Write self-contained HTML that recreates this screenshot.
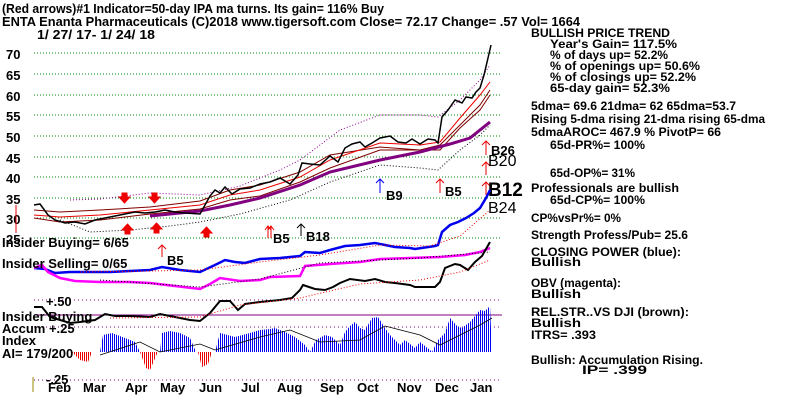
<!DOCTYPE html>
<html><head><meta charset="utf-8"><style>
html,body{margin:0;padding:0;background:#fff;}
svg{display:block;}
text{font-family:"Liberation Sans",sans-serif;font-weight:bold;fill:#000;}
</style></head><body>
<svg width="800" height="401" viewBox="0 0 800 401" xmlns="http://www.w3.org/2000/svg">
<defs>
<pattern id="bl" width="2" height="4" patternUnits="userSpaceOnUse"><rect x="0" y="0" width="1" height="4" fill="#0000ee"/></pattern>
<pattern id="rd" width="2" height="4" patternUnits="userSpaceOnUse"><rect x="0" y="0" width="1" height="4" fill="#ee0000"/></pattern>
</defs>
<rect width="800" height="401" fill="#fff"/>
<!-- header -->
<text x="2" y="13" font-size="13" textLength="382" lengthAdjust="spacingAndGlyphs">(Red arrows)#1 Indicator=50-day IPA ma turns. Its gain= 116% Buy</text>
<text x="2" y="26" font-size="13" textLength="578" lengthAdjust="spacingAndGlyphs">ENTA   Enanta Pharmaceuticals   (C)2018 www.tigersoft.com     Close=  72.17   Change= .57 Vol= 1664</text>
<text x="37" y="39" font-size="13" textLength="118" lengthAdjust="spacingAndGlyphs">1/ 27/ 17- 1/ 24/ 18</text>
<!-- grid -->
<g stroke="#008800" stroke-dasharray="1,2" stroke-width="1">
<line x1="34" y1="53" x2="500" y2="53"/><line x1="34" y1="74" x2="500" y2="74"/>
<line x1="34" y1="95" x2="500" y2="95"/><line x1="34" y1="115" x2="500" y2="115"/>
<line x1="34" y1="136" x2="500" y2="136"/><line x1="34" y1="157" x2="500" y2="157"/>
<line x1="34" y1="177" x2="500" y2="177"/><line x1="34" y1="198" x2="500" y2="198"/>
<line x1="34" y1="218" x2="500" y2="218"/><line x1="34" y1="238" x2="500" y2="238"/>
</g>
<g font-size="13">
<text x="6" y="59">70</text><text x="6" y="80">65</text><text x="6" y="101">60</text>
<text x="6" y="121">55</text><text x="6" y="142">50</text><text x="6" y="163">45</text>
<text x="6" y="183">40</text><text x="6" y="204">35</text><text x="6" y="224">30</text>
<text x="6" y="244">25</text>
</g>
<!-- accum dotted lines -->
<g stroke="#800080" stroke-dasharray="1,3">
<line x1="34" y1="300" x2="500" y2="300"/><line x1="34" y1="327" x2="500" y2="327"/>
<line x1="34" y1="380" x2="500" y2="380"/>
</g>
<line x1="34" y1="315" x2="502" y2="315" stroke="#800080" stroke-width="1"/>
<!-- bands -->
<polyline fill="none" stroke="#900090" stroke-dasharray="1,2" points="70,200 100,199 150,193 200,195 240,186 280,170 300,160 340,130 380,115 420,115 438,117 460,100 480,80 490,65"/>
<polyline fill="none" stroke="#000" stroke-dasharray="1,2" points="60,220 90,232 130,230 170,226 200,222 240,214 290,200 330,182 380,165 420,168 438,170 460,150 480,135 490,125"/>
<polyline fill="none" stroke="#800000" stroke-width="1" points="34,210 60,212 100,210 150,207 200,201 230,190 260,185 300,172 330,155 380,147 420,150 440,145 460,125 480,105 490,90"/>
<polyline fill="none" stroke="#ee0000" stroke-width="1" points="34,215 60,217 100,215 150,210 200,205 230,195 260,190 300,177 330,160 380,143 420,145 440,142 460,118 480,95 490,82"/>
<polyline fill="none" stroke="#800000" stroke-width="1" points="34,218 60,222 100,220 150,214 200,209 230,200 260,196 300,182 330,168 380,150 420,150 440,150 460,128 480,110 490,95"/>
<polyline fill="none" stroke="#800080" stroke-width="3" points="150,216 200,211 230,205 260,198 300,185 330,172 380,160 420,152 450,144 470,138 490,122"/>
<!-- price -->
<polyline fill="none" stroke="#000" stroke-width="1.5" points="34,205 40,204 48,215 55,220 65,223 75,222 85,224 95,220 105,218 115,216 125,214 135,212 145,213 155,212 165,210 175,212 185,213 200,214 205,205 210,196 215,190 220,193 225,187 232,194 240,189 250,188 260,184 270,182 280,178 290,184 298,175 302,163 310,164 320,165 330,156 338,162 345,148 352,144 360,142 365,147 372,143 380,138 390,136 398,142 406,143 412,139 420,144 428,139 435,140 438,143 442,117 448,110 455,100 462,103 466,97 472,98 476,92 480,88 484,75 488,58 491,45"/>
<!-- arrows and signals -->
<g fill="#ee0000" stroke="#ee0000">
<line x1="16" y1="205" x2="16" y2="233"/>
<path d="M122,193 h5 v4 h3 l-5.5,6 l-5.5,-6 h3z"/>
<path d="M152,193 h5 v4 h3 l-5.5,6 l-5.5,-6 h3z"/>
<path d="M125,234 h5 v-4 h3 l-5.5,-6 l-5.5,6 h3z"/>
<path d="M154,233 h5 v-4 h3 l-5.5,-6 l-5.5,6 h3z"/>
<path d="M204,237 h5 v-4 h3 l-5.5,-6 l-5.5,6 h3z"/>
</g>
<g stroke="#ee0000" fill="none">
<path d="M268,238 v-12 M265,230 l3,-4 l3,4 M271,238 v-12 M268,230 l3,-4 l3,4"/>
<path d="M162,257 v-12 M158,249 l4,-4 l4,4"/>
<path d="M440,193 v-14 M436,183 l4,-4 l4,4"/>
<path d="M486,155 v-14 M482,145 l4,-4 l4,4 M486,175 v-13 M482,166 l4,-4 l4,4 M486,195 v-13 M482,186 l4,-4 l4,4"/>
</g>
<path d="M301,236 v-12 M297,228 l4,-4 l4,4" stroke="#000" fill="none"/>
<path d="M380,193 v-14 M376,183 l4,-4 l4,4" stroke="#0000ee" fill="none"/>
<g font-size="13">
<text x="167" y="265">B5</text><text x="273" y="243">B5</text><text x="306" y="241">B18</text>
<text x="386" y="200">B9</text><text x="445" y="196">B5</text><text x="491" y="155">B26</text>
</g>
<text x="488" y="166" font-size="16" font-weight="normal" style="font-weight:normal">B20</text>
<text x="488" y="196" font-size="19">B12</text>
<text x="488" y="213" font-size="16" style="font-weight:normal">B24</text>
<!-- closing power blue -->
<polyline fill="none" stroke="#0000ee" stroke-width="2.5" points="34,268 45,269 55,273 70,272 90,272 110,272 130,271 150,270 162,267 180,270 200,272 215,265 225,260 235,262 245,263 260,259 280,258 300,256 305,252 320,253 330,250 345,246 360,245 375,243 395,247 410,248 415,249 435,246 438,245 442,232 450,225 458,222 466,218 474,213 480,208 486,198 490,190"/>
<polyline fill="none" stroke="#ee0000" stroke-dasharray="1,2" points="80,272 150,271 200,270 260,262 320,255 380,245 430,246 460,236 490,210"/>
<!-- OBV magenta -->
<polyline fill="none" stroke="#ff00ff" stroke-width="2.5" points="34,268 42,265 48,272 60,278 75,281 100,282 130,282 150,283 175,286 200,289 210,284 220,278 240,281 260,280 270,277 300,276 305,266 330,264 360,262 380,259 410,258 440,257 465,255 480,252 490,248"/>
<polyline fill="none" stroke="#000" stroke-dasharray="1,2" points="100,280 200,287 260,279 320,263 420,258 490,252"/>
<!-- RS black -->
<polyline fill="none" stroke="#000" stroke-width="2" points="34,307 42,307 50,317 70,323 80,322 95,320 105,314 115,316 130,316 150,317 160,314 175,317 190,320 200,321 210,313 220,301 230,301 238,310 245,304 260,302 280,300 292,298 300,290 303,285 315,289 325,290 333,287 340,283 350,279 365,281 375,279 385,282 395,283 410,285 415,287 435,287 440,282 445,268 455,264 460,265 468,270 475,262 482,256 490,242"/>
<polyline fill="none" stroke="#ee0000" stroke-dasharray="1,2" points="110,318 200,317 240,305 300,298 360,284 420,280 460,272 490,260"/>
<!-- accum -->
<polygon fill="url(#bl)" points="100,352 103,335 112,333 125,338 135,342 140,352 160,352 162,333 170,331 180,333 190,338 196,352 215,352 220,333 235,337 250,333 260,330 270,329 275,328 285,332 295,337 305,345 310,352 316,340 325,335 332,337 340,345 345,332 350,326 355,322 360,328 365,330 372,318 378,317 385,328 390,335 400,345 405,340 410,344 415,348 420,342 430,350 432,352 438,340 445,333 450,318 457,326 462,328 470,322 475,316 480,310 485,311 490,306 492,352"/>
<polygon fill="url(#rd)" points="72,352 80,360 88,362 92,352"/>
<polygon fill="url(#rd)" points="140,352 146,368 150,370 156,356 158,352"/>
<polygon fill="url(#rd)" points="198,352 202,367 208,364 212,352"/>
<polyline fill="none" stroke="#000" stroke-width="0.8" points="100,355 140,342 160,352 200,344 215,350 260,337 290,330 320,342 360,340 385,326 420,335 440,345 460,335 480,325 492,318"/>
<g font-size="13">
<text x="2" y="247">Insider Buying= 6/65</text>
<text x="2" y="268">Insider Selling= 0/65</text>
<text x="46" y="306">+.50</text>
<text x="2" y="321">Insider Buying</text>
<text x="2" y="333">Accum  +.25</text>
<text x="2" y="345">Index</text>
<text x="2" y="358">AI= 179/200</text>
<text x="46" y="384">-.25</text>
</g>
<line x1="33" y1="377" x2="33" y2="392" stroke="#998800"/>
<g font-size="13">
<text x="48" y="392">Feb</text><text x="83" y="392">Mar</text><text x="125" y="392">Apr</text>
<text x="160" y="392">May</text><text x="199" y="392">Jun</text><text x="241" y="392">Jul</text>
<text x="277" y="392">Aug</text><text x="320" y="392">Sep</text><text x="357" y="392">Oct</text>
<text x="397" y="392">Nov</text><text x="435" y="392">Dec</text><text x="470" y="392">Jan</text>
</g>
<!-- right panel -->
<g font-size="12">
<text x="531" y="37" textLength="139" lengthAdjust="spacingAndGlyphs">BULLISH PRICE TREND</text>
<text x="550" y="48" textLength="127" lengthAdjust="spacingAndGlyphs">Year's Gain= 117.5%</text>
<text x="550" y="59" textLength="118" lengthAdjust="spacingAndGlyphs">% of days up= 52.2%</text>
<text x="550" y="70" textLength="150" lengthAdjust="spacingAndGlyphs">% of openings up= 50.6%</text>
<text x="550" y="81" textLength="146" lengthAdjust="spacingAndGlyphs">% of closings up= 52.2%</text>
<text x="550" y="92" textLength="120" lengthAdjust="spacingAndGlyphs">65-day gain= 52.3%</text>
<text x="531" y="110" textLength="205" lengthAdjust="spacingAndGlyphs">5dma= 69.6 21dma= 62 65dma=53.7</text>
<text x="531" y="123" textLength="234" lengthAdjust="spacingAndGlyphs">Rising 5-dma rising 21-dma rising 65-dma</text>
<text x="531" y="136" textLength="190" lengthAdjust="spacingAndGlyphs">5dmaAROC= 467.9 %  PivotP= 66</text>
<text x="550" y="149" textLength="95" lengthAdjust="spacingAndGlyphs">65d-PR%= 100%</text>
<text x="550" y="177" textLength="85" lengthAdjust="spacingAndGlyphs">65d-OP%= 31%</text>
<text x="531" y="192" textLength="148" lengthAdjust="spacingAndGlyphs">Professionals are bullish</text>
<text x="550" y="204" textLength="95" lengthAdjust="spacingAndGlyphs">65d-CP%= 100%</text>
<text x="531" y="222" textLength="90" lengthAdjust="spacingAndGlyphs">CP%vsPr%=  0%</text>
<text x="531" y="239" textLength="157" lengthAdjust="spacingAndGlyphs">Strength Profess/Pub= 25.6</text>
<text x="531" y="256" textLength="150" lengthAdjust="spacingAndGlyphs">CLOSING POWER (blue):</text>
<text x="531" y="266" textLength="50" lengthAdjust="spacingAndGlyphs">Bullish</text>
<text x="531" y="287" textLength="90" lengthAdjust="spacingAndGlyphs">OBV (magenta):</text>
<text x="531" y="298" textLength="50" lengthAdjust="spacingAndGlyphs">Bullish</text>
<text x="531" y="316" textLength="158" lengthAdjust="spacingAndGlyphs">REL.STR..VS DJI (brown):</text>
<text x="531" y="327" textLength="50" lengthAdjust="spacingAndGlyphs">Bullish</text>
<text x="531" y="339" textLength="65" lengthAdjust="spacingAndGlyphs">ITRS= .393</text>
<text x="531" y="364" textLength="172" lengthAdjust="spacingAndGlyphs">Bullish: Accumulation Rising.</text>
<text x="582" y="374" textLength="65" lengthAdjust="spacingAndGlyphs">IP=  .399</text>
</g>
</svg>
</body></html>
